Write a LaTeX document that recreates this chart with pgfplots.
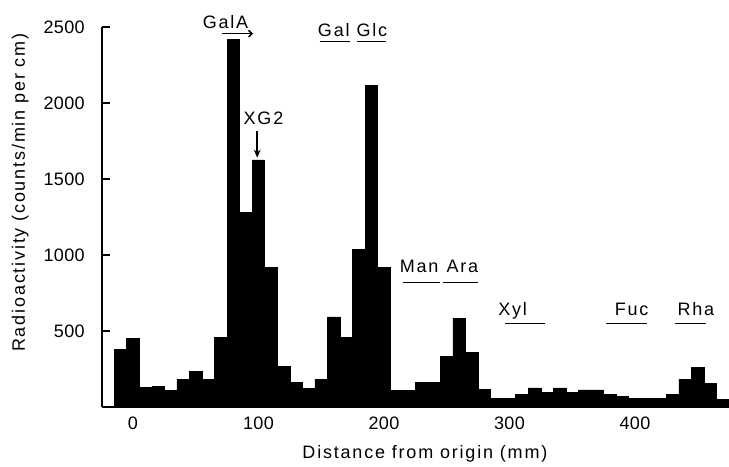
\documentclass[border=0pt]{standalone}
\usepackage{fontspec}
\setmainfont{Liberation Sans}[LetterSpace=10]
\newfontfamily\tickfont{Liberation Sans}[LetterSpace=2]
\usepackage{pgfplots}
\pgfplotsset{compat=1.18}
\usetikzlibrary{arrows.meta}

% left edges of 10 mm bins, counts/min per cm (last row closes the interval)
\pgfplotstableread{
x y
-15 380
-5 452
5 129
15 138
25 107
35 182
45 232
55 182
65 458
75 2416
85 1282
95 1626
105 921
115 269
125 160
135 120
145 183
155 593
165 458
175 1037
185 2114
195 918
205 107
215 107
225 162
235 162
245 335
255 584
265 361
275 118
285 57
295 57
305 85
315 125
325 98
335 125
345 94
355 112
365 112
375 85
385 72
395 57
405 57
415 57
425 85
435 182
445 260
455 155
465 50
475 50
}\radio

\begin{document}
\fontsize{13.5}{16}\selectfont
\begin{tikzpicture}
\path[use as bounding box] (-76.5pt,-45pt) rectangle (470.25pt,305.25pt);
\begin{axis}[
    scale only axis, width=470.25pt, height=285pt,
    at={(0,0)}, anchor=south west,
    xmin=-24.7, xmax=475, ymin=0, ymax=2500,
    axis x line=bottom, axis y line=left,
    axis line style={-, line width=1.5pt},
    every outer x axis line/.append style={-},
    every outer y axis line/.append style={-},
    xtick={0,100,200,300,400}, ytick={500,1000,1500,2000,2500},
    tick align=inside, major tick length=6pt,
    xtick style={draw=none},
    ytick style={line width=1.1pt, black},
    /pgf/number format/assume math mode=true,
    /pgf/number format/1000 sep={},
    ticklabel style={font=\tickfont\fontsize{13.5}{16}\selectfont},
    yticklabel style={inner sep=0pt, anchor=east, xshift=-12.75pt},
    xticklabel style={inner sep=0pt, anchor=north, yshift=-7.3pt},
    xlabel={Distance from origin (mm)},
    xlabel style={at={(axis description cs:0.515,0)}, anchor=base, yshift=-39pt, inner sep=0pt},
    ylabel={Radioactivity (counts/min per cm)},
    ylabel style={at={(axis description cs:-0.1228,0.564)}, anchor=base, inner sep=0pt},
    clip=false,
]
\addplot[ybar interval, fill=black, draw=black] table[x=x, y=y] {\radio};

% sugar standards
\node[anchor=base] at (axis cs:73.7,2489) {GalA};
\draw[line width=1.1pt, -{Straight Barb[length=2.5pt]}] (axis cs:70.9,2456) -- (axis cs:95.6,2456);
\node[anchor=base] at (axis cs:104,1858) {XG2};
\draw[line width=1.1pt, -{Stealth[length=6pt, width=5pt]}] (axis cs:99,1819) -- (axis cs:99,1640);
\node[anchor=base] at (axis cs:160,2436) {Gal};
\draw[line width=1.1pt] (axis cs:149,2405) -- (axis cs:173,2405);
\node[anchor=base] at (axis cs:190.4,2436) {Glc};
\draw[line width=1.1pt] (axis cs:178.5,2405) -- (axis cs:201.6,2405);
\node[anchor=base] at (axis cs:228,884) {Man};
\draw[line width=1.1pt] (axis cs:215,819) -- (axis cs:244.6,819);
\node[anchor=base] at (axis cs:262.5,884) {Ara};
\draw[line width=1.1pt] (axis cs:247.3,819) -- (axis cs:275.1,819);
\node[anchor=base] at (axis cs:302.5,604) {Xyl};
\draw[line width=1.1pt] (axis cs:296.4,549) -- (axis cs:328.3,549);
\node[anchor=base] at (axis cs:397.4,604) {Fuc};
\draw[line width=1.1pt] (axis cs:377,549) -- (axis cs:409.3,549);
\node[anchor=base] at (axis cs:448.6,604) {Rha};
\draw[line width=1.1pt] (axis cs:431.9,549) -- (axis cs:456.6,549);
\end{axis}
\end{tikzpicture}
\end{document}
